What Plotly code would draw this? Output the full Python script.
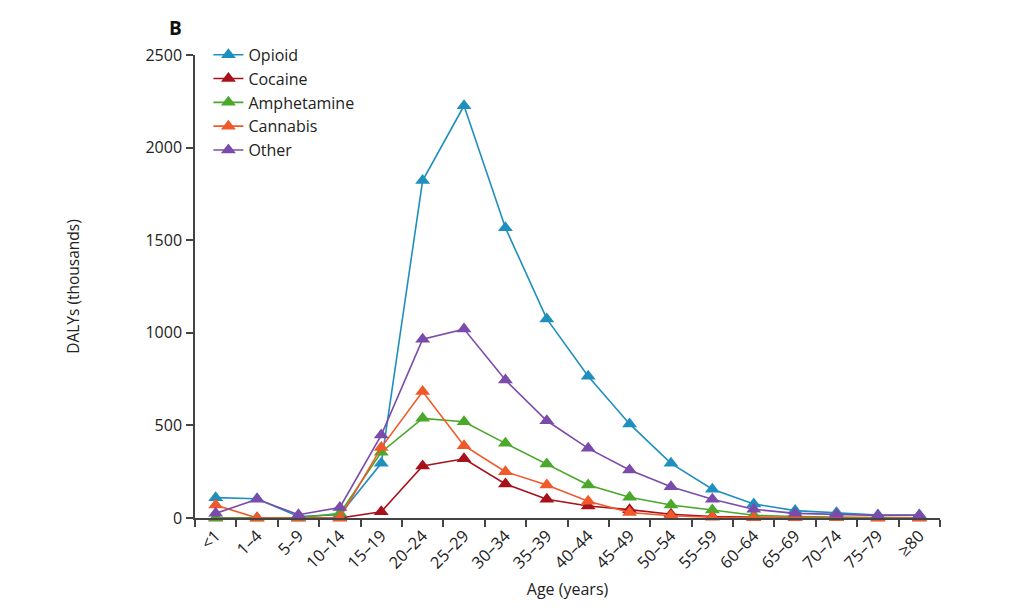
import plotly.graph_objects as go

ages = ["<1", "1–4", "5–9", "10–14", "15–19", "20–24", "25–29", "30–34", "35–39",
        "40–44", "45–49", "50–54", "55–59", "60–64", "65–69", "70–74", "75–79", "≥80"]

opioid = [110, 104, 8, 18, 295, 1822, 2226, 1567, 1075, 765, 508, 295, 155, 76, 40, 29, 16, 16]
cocaine = [0, 0, 0, 0, 34, 281, 320, 184, 101, 65, 45, 20, 8, 3, 1, 1, 0, 0]
amphetamine = [0, 0, 0, 25, 355, 538, 520, 403, 292, 178, 112, 70, 43, 15, 8, 4, 2, 1]
cannabis = [70, 0, 0, 0, 380, 683, 390, 250, 178, 90, 30, 12, 4, 2, 1, 1, 0, 0]
other = [25, 101, 18, 57, 448, 965, 1020, 745, 525, 376, 259, 169, 101, 47, 25, 20, 14, 15]

series = [
    ("Opioid", opioid, "#1f8fbd"),
    ("Cocaine", cocaine, "#a8101a"),
    ("Amphetamine", amphetamine, "#4aa82a"),
    ("Cannabis", cannabis, "#f0592a"),
    ("Other", other, "#7b4bab"),
]

fig = go.Figure()
for name, vals, col in series:
    fig.add_trace(go.Scatter(
        x=ages, y=vals, name=name, mode="lines+markers",
        line=dict(color=col, width=1.6),
        marker=dict(symbol="triangle-up", size=13, color=col),
        cliponaxis=False,
    ))

font = "Open Sans, Noto Sans, sans-serif"
W, H = 1004, 596          # page body has 8px margin
L, R, T, B = 187, 932, 47, 510   # plot box in figure pixels
fig.update_layout(
    width=W, height=H, autosize=False,
    margin=dict(l=L, r=W - R, t=T, b=H - B, autoexpand=False),
    paper_bgcolor="white", plot_bgcolor="white",
    font=dict(family=font, size=16, color="#222"),
    showlegend=True,
    legend=dict(x=0.018, y=1.037, xanchor="left", yanchor="top",
                bgcolor="rgba(0,0,0,0)", font=dict(size=16), itemwidth=30,
                tracegroupgap=0),
    xaxis=dict(
        type="category", range=[-0.5, len(ages) - 0.5],
        tickson="boundaries", ticks="outside", ticklen=7,
        tickcolor="#444", tickwidth=1.5, showline=True, linecolor="#444", linewidth=1.5,
        tickangle=-45, showgrid=False, zeroline=False, automargin=False,
        title=dict(text="Age (years)", standoff=12, font=dict(size=16)),
        tickfont=dict(size=16.5),
    ),
    yaxis=dict(
        range=[0, 2500], tickvals=[0, 500, 1000, 1500, 2000, 2500],
        ticks="outside", ticklen=7, tickcolor="#444", tickwidth=1.5,
        showline=True, linecolor="#444", linewidth=1.5, showgrid=False, zeroline=False,
        automargin=False, ticklabelstandoff=1,
        title=dict(text="DALYs (thousands)", standoff=62, font=dict(size=15.5)),
        tickfont=dict(size=16),
    ),
    annotations=[dict(text="<b>B</b>", x=(175 - 195) / (R - L), y=(518 - 28) / (B - T),
                      xref="paper", yref="paper", xanchor="center", yanchor="middle",
                      showarrow=False, font=dict(size=19, color="#111"))],
)

fig.write_html("out.html", config={"responsive": False})
